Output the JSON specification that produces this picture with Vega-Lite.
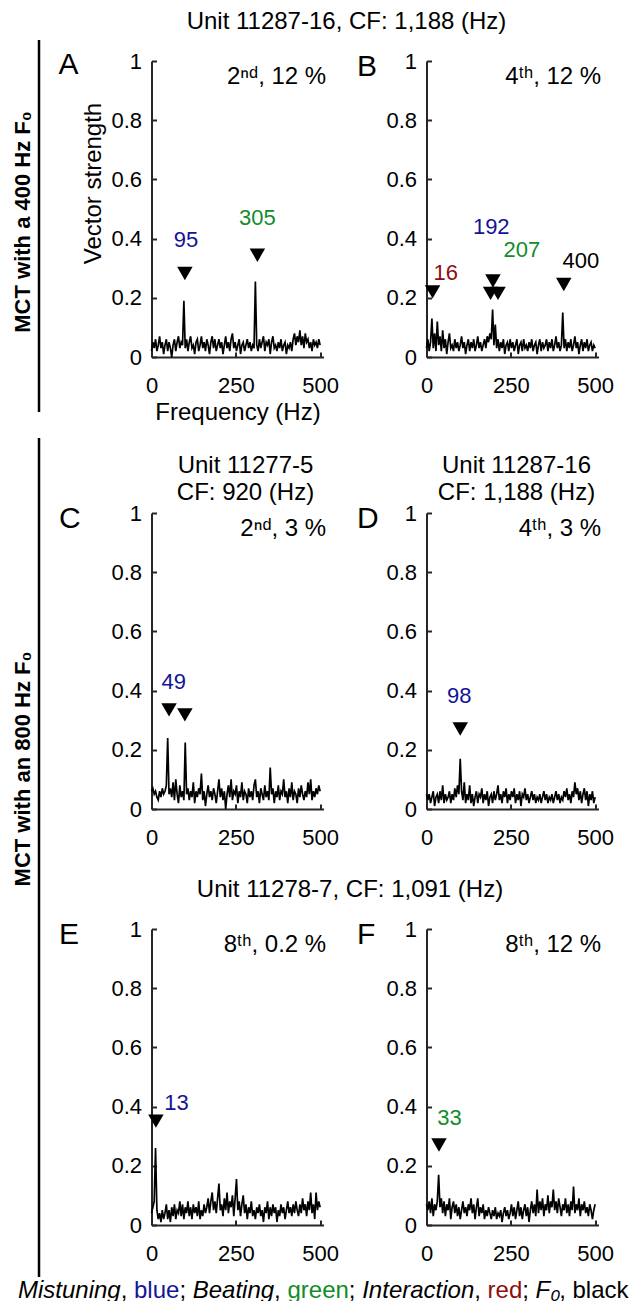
{
"$schema":"https://vega.github.io/schema/vega-lite/v6.json",
"background":"white",
"padding":{"top":10,"left":0,"right":0,"bottom":0},
"config":{"font":"Liberation Sans","view":{"stroke":null},
"axis":{"domainColor":"#262626","domainWidth":2,"tickColor":"#262626","tickWidth":2,"tickSize":-5,"labelFontSize":22,"labelColor":"#000","labelFlush":false,"labelOverlap":false,"grid":false,"titleFontSize":24,"titleFontWeight":"normal","titleColor":"#000"},
"title":{"fontSize":24,"fontWeight":"normal","color":"#000"}},
"datasets":{
"vA":[{"f":0,"v":0.02},{"f":4,"v":0.05},{"f":8,"v":0.03},{"f":12,"v":0.06},{"f":16,"v":0.02},{"f":20,"v":0.04},{"f":24,"v":0.07},{"f":28,"v":0.03},{"f":32,"v":0.05},{"f":36,"v":0.01},{"f":40,"v":0.04},{"f":44,"v":0.06},{"f":48,"v":0.02},{"f":52,"v":0.05},{"f":56,"v":0.03},{"f":60,"v":0.0},{"f":64,"v":0.04},{"f":68,"v":0.06},{"f":72,"v":0.02},{"f":76,"v":0.05},{"f":80,"v":0.07},{"f":84,"v":0.03},{"f":88,"v":0.05},{"f":92,"v":0.04},{"f":96,"v":0.19},{"f":100,"v":0.03},{"f":104,"v":0.06},{"f":108,"v":0.02},{"f":112,"v":0.05},{"f":116,"v":0.07},{"f":120,"v":0.03},{"f":124,"v":0.04},{"f":128,"v":0.01},{"f":132,"v":0.05},{"f":136,"v":0.06},{"f":140,"v":0.02},{"f":144,"v":0.04},{"f":148,"v":0.07},{"f":152,"v":0.03},{"f":156,"v":0.05},{"f":160,"v":0.02},{"f":164,"v":0.06},{"f":168,"v":0.04},{"f":172,"v":0.01},{"f":176,"v":0.05},{"f":180,"v":0.07},{"f":184,"v":0.03},{"f":188,"v":0.06},{"f":192,"v":0.02},{"f":196,"v":0.04},{"f":200,"v":0.06},{"f":204,"v":0.03},{"f":208,"v":0.05},{"f":212,"v":0.01},{"f":216,"v":0.04},{"f":220,"v":0.07},{"f":224,"v":0.03},{"f":228,"v":0.05},{"f":232,"v":0.02},{"f":236,"v":0.06},{"f":240,"v":0.08},{"f":244,"v":0.03},{"f":248,"v":0.05},{"f":252,"v":0.02},{"f":256,"v":0.04},{"f":260,"v":0.06},{"f":264,"v":0.01},{"f":268,"v":0.04},{"f":272,"v":0.05},{"f":276,"v":0.02},{"f":280,"v":0.04},{"f":284,"v":0.06},{"f":288,"v":0.03},{"f":292,"v":0.05},{"f":296,"v":0.02},{"f":300,"v":0.04},{"f":304,"v":0.03},{"f":308,"v":0.255},{"f":312,"v":0.04},{"f":316,"v":0.02},{"f":320,"v":0.06},{"f":324,"v":0.03},{"f":328,"v":0.05},{"f":332,"v":0.07},{"f":336,"v":0.02},{"f":340,"v":0.05},{"f":344,"v":0.04},{"f":348,"v":0.06},{"f":352,"v":0.01},{"f":356,"v":0.05},{"f":360,"v":0.07},{"f":364,"v":0.03},{"f":368,"v":0.04},{"f":372,"v":0.02},{"f":376,"v":0.05},{"f":380,"v":0.03},{"f":384,"v":0.06},{"f":388,"v":0.02},{"f":392,"v":0.04},{"f":396,"v":0.05},{"f":400,"v":0.01},{"f":404,"v":0.04},{"f":408,"v":0.03},{"f":412,"v":0.05},{"f":416,"v":0.02},{"f":420,"v":0.06},{"f":424,"v":0.08},{"f":428,"v":0.04},{"f":432,"v":0.07},{"f":436,"v":0.05},{"f":440,"v":0.09},{"f":444,"v":0.04},{"f":448,"v":0.07},{"f":452,"v":0.03},{"f":456,"v":0.08},{"f":460,"v":0.05},{"f":464,"v":0.06},{"f":468,"v":0.03},{"f":472,"v":0.05},{"f":476,"v":0.02},{"f":480,"v":0.06},{"f":484,"v":0.04},{"f":488,"v":0.05},{"f":492,"v":0.03},{"f":496,"v":0.06},{"f":500,"v":0.04}],
"vB":[{"f":0,"v":0.03},{"f":4,"v":0.06},{"f":8,"v":0.02},{"f":12,"v":0.05},{"f":16,"v":0.13},{"f":20,"v":0.03},{"f":24,"v":0.08},{"f":28,"v":0.02},{"f":32,"v":0.12},{"f":36,"v":0.04},{"f":40,"v":0.07},{"f":44,"v":0.02},{"f":48,"v":0.09},{"f":52,"v":0.03},{"f":56,"v":0.06},{"f":60,"v":0.01},{"f":64,"v":0.05},{"f":68,"v":0.08},{"f":72,"v":0.03},{"f":76,"v":0.04},{"f":80,"v":0.02},{"f":84,"v":0.06},{"f":88,"v":0.03},{"f":92,"v":0.05},{"f":96,"v":0.02},{"f":100,"v":0.04},{"f":104,"v":0.07},{"f":108,"v":0.03},{"f":112,"v":0.05},{"f":116,"v":0.01},{"f":120,"v":0.04},{"f":124,"v":0.06},{"f":128,"v":0.02},{"f":132,"v":0.05},{"f":136,"v":0.03},{"f":140,"v":0.06},{"f":144,"v":0.02},{"f":148,"v":0.04},{"f":152,"v":0.07},{"f":156,"v":0.03},{"f":160,"v":0.05},{"f":164,"v":0.02},{"f":168,"v":0.04},{"f":172,"v":0.06},{"f":176,"v":0.03},{"f":180,"v":0.07},{"f":184,"v":0.05},{"f":188,"v":0.08},{"f":192,"v":0.06},{"f":196,"v":0.16},{"f":200,"v":0.04},{"f":204,"v":0.11},{"f":208,"v":0.03},{"f":212,"v":0.06},{"f":216,"v":0.02},{"f":220,"v":0.05},{"f":224,"v":0.03},{"f":228,"v":0.06},{"f":232,"v":0.01},{"f":236,"v":0.04},{"f":240,"v":0.05},{"f":244,"v":0.02},{"f":248,"v":0.06},{"f":252,"v":0.03},{"f":256,"v":0.05},{"f":260,"v":0.02},{"f":264,"v":0.04},{"f":268,"v":0.06},{"f":272,"v":0.01},{"f":276,"v":0.04},{"f":280,"v":0.05},{"f":284,"v":0.02},{"f":288,"v":0.06},{"f":292,"v":0.03},{"f":296,"v":0.04},{"f":300,"v":0.02},{"f":304,"v":0.05},{"f":308,"v":0.03},{"f":312,"v":0.06},{"f":316,"v":0.02},{"f":320,"v":0.04},{"f":324,"v":0.05},{"f":328,"v":0.01},{"f":332,"v":0.04},{"f":336,"v":0.06},{"f":340,"v":0.02},{"f":344,"v":0.05},{"f":348,"v":0.03},{"f":352,"v":0.04},{"f":356,"v":0.06},{"f":360,"v":0.02},{"f":364,"v":0.05},{"f":368,"v":0.03},{"f":372,"v":0.06},{"f":376,"v":0.02},{"f":380,"v":0.04},{"f":384,"v":0.07},{"f":388,"v":0.03},{"f":392,"v":0.05},{"f":396,"v":0.02},{"f":400,"v":0.04},{"f":404,"v":0.15},{"f":408,"v":0.03},{"f":412,"v":0.06},{"f":416,"v":0.02},{"f":420,"v":0.05},{"f":424,"v":0.03},{"f":428,"v":0.06},{"f":432,"v":0.02},{"f":436,"v":0.04},{"f":440,"v":0.07},{"f":444,"v":0.03},{"f":448,"v":0.05},{"f":452,"v":0.01},{"f":456,"v":0.04},{"f":460,"v":0.06},{"f":464,"v":0.02},{"f":468,"v":0.05},{"f":472,"v":0.03},{"f":476,"v":0.06},{"f":480,"v":0.02},{"f":484,"v":0.04},{"f":488,"v":0.05},{"f":492,"v":0.02},{"f":496,"v":0.04},{"f":500,"v":0.03}],
"vC":[{"f":0,"v":0.06},{"f":4,"v":0.07},{"f":8,"v":0.05},{"f":12,"v":0.06},{"f":16,"v":0.04},{"f":20,"v":0.03},{"f":24,"v":0.06},{"f":28,"v":0.04},{"f":32,"v":0.07},{"f":36,"v":0.05},{"f":40,"v":0.06},{"f":44,"v":0.08},{"f":48,"v":0.24},{"f":52,"v":0.05},{"f":56,"v":0.07},{"f":60,"v":0.04},{"f":64,"v":0.09},{"f":68,"v":0.03},{"f":72,"v":0.1},{"f":76,"v":0.05},{"f":80,"v":0.02},{"f":84,"v":0.08},{"f":88,"v":0.04},{"f":92,"v":0.06},{"f":96,"v":0.03},{"f":100,"v":0.225},{"f":104,"v":0.05},{"f":108,"v":0.07},{"f":112,"v":0.03},{"f":116,"v":0.06},{"f":120,"v":0.04},{"f":124,"v":0.09},{"f":128,"v":0.02},{"f":132,"v":0.06},{"f":136,"v":0.04},{"f":140,"v":0.07},{"f":144,"v":0.05},{"f":148,"v":0.12},{"f":152,"v":0.03},{"f":156,"v":0.06},{"f":160,"v":0.01},{"f":164,"v":0.05},{"f":168,"v":0.08},{"f":172,"v":0.04},{"f":176,"v":0.06},{"f":180,"v":0.03},{"f":184,"v":0.07},{"f":188,"v":0.05},{"f":192,"v":0.02},{"f":196,"v":0.06},{"f":200,"v":0.1},{"f":204,"v":0.04},{"f":208,"v":0.07},{"f":212,"v":0.03},{"f":216,"v":0.06},{"f":220,"v":0.0},{"f":224,"v":0.05},{"f":228,"v":0.08},{"f":232,"v":0.04},{"f":236,"v":0.1},{"f":240,"v":0.03},{"f":244,"v":0.06},{"f":248,"v":0.05},{"f":252,"v":0.08},{"f":256,"v":0.02},{"f":260,"v":0.06},{"f":264,"v":0.04},{"f":268,"v":0.09},{"f":272,"v":0.03},{"f":276,"v":0.06},{"f":280,"v":0.05},{"f":284,"v":0.02},{"f":288,"v":0.07},{"f":292,"v":0.04},{"f":296,"v":0.06},{"f":300,"v":0.03},{"f":304,"v":0.08},{"f":308,"v":0.1},{"f":312,"v":0.04},{"f":316,"v":0.06},{"f":320,"v":0.02},{"f":324,"v":0.07},{"f":328,"v":0.05},{"f":332,"v":0.03},{"f":336,"v":0.08},{"f":340,"v":0.04},{"f":344,"v":0.06},{"f":348,"v":0.03},{"f":352,"v":0.14},{"f":356,"v":0.05},{"f":360,"v":0.07},{"f":364,"v":0.02},{"f":368,"v":0.06},{"f":372,"v":0.04},{"f":376,"v":0.08},{"f":380,"v":0.03},{"f":384,"v":0.06},{"f":388,"v":0.05},{"f":392,"v":0.1},{"f":396,"v":0.04},{"f":400,"v":0.06},{"f":404,"v":0.02},{"f":408,"v":0.07},{"f":412,"v":0.04},{"f":416,"v":0.09},{"f":420,"v":0.03},{"f":424,"v":0.06},{"f":428,"v":0.05},{"f":432,"v":0.02},{"f":436,"v":0.07},{"f":440,"v":0.04},{"f":444,"v":0.08},{"f":448,"v":0.05},{"f":452,"v":0.03},{"f":456,"v":0.06},{"f":460,"v":0.04},{"f":464,"v":0.09},{"f":468,"v":0.05},{"f":472,"v":0.1},{"f":476,"v":0.03},{"f":480,"v":0.06},{"f":484,"v":0.04},{"f":488,"v":0.07},{"f":492,"v":0.05},{"f":496,"v":0.08},{"f":500,"v":0.06}],
"vD":[{"f":0,"v":0.05},{"f":4,"v":0.03},{"f":8,"v":0.05},{"f":12,"v":0.02},{"f":16,"v":0.04},{"f":20,"v":0.06},{"f":24,"v":0.01},{"f":28,"v":0.04},{"f":32,"v":0.05},{"f":36,"v":0.02},{"f":40,"v":0.06},{"f":44,"v":0.03},{"f":48,"v":0.08},{"f":52,"v":0.02},{"f":56,"v":0.05},{"f":60,"v":0.03},{"f":64,"v":0.04},{"f":68,"v":0.06},{"f":72,"v":0.02},{"f":76,"v":0.05},{"f":80,"v":0.03},{"f":84,"v":0.07},{"f":88,"v":0.04},{"f":92,"v":0.08},{"f":96,"v":0.05},{"f":100,"v":0.17},{"f":104,"v":0.06},{"f":108,"v":0.03},{"f":112,"v":0.09},{"f":116,"v":0.02},{"f":120,"v":0.05},{"f":124,"v":0.03},{"f":128,"v":0.08},{"f":132,"v":0.02},{"f":136,"v":0.05},{"f":140,"v":0.01},{"f":144,"v":0.04},{"f":148,"v":0.06},{"f":152,"v":0.02},{"f":156,"v":0.05},{"f":160,"v":0.04},{"f":164,"v":0.07},{"f":168,"v":0.02},{"f":172,"v":0.05},{"f":176,"v":0.03},{"f":180,"v":0.06},{"f":184,"v":0.01},{"f":188,"v":0.04},{"f":192,"v":0.05},{"f":196,"v":0.02},{"f":200,"v":0.06},{"f":204,"v":0.03},{"f":208,"v":0.05},{"f":212,"v":0.08},{"f":216,"v":0.03},{"f":220,"v":0.05},{"f":224,"v":0.02},{"f":228,"v":0.06},{"f":232,"v":0.04},{"f":236,"v":0.07},{"f":240,"v":0.02},{"f":244,"v":0.05},{"f":248,"v":0.03},{"f":252,"v":0.06},{"f":256,"v":0.04},{"f":260,"v":0.07},{"f":264,"v":0.02},{"f":268,"v":0.05},{"f":272,"v":0.03},{"f":276,"v":0.06},{"f":280,"v":0.01},{"f":284,"v":0.05},{"f":288,"v":0.04},{"f":292,"v":0.07},{"f":296,"v":0.03},{"f":300,"v":0.05},{"f":304,"v":0.02},{"f":308,"v":0.04},{"f":312,"v":0.06},{"f":316,"v":0.03},{"f":320,"v":0.05},{"f":324,"v":0.02},{"f":328,"v":0.04},{"f":332,"v":0.03},{"f":336,"v":0.05},{"f":340,"v":0.02},{"f":344,"v":0.04},{"f":348,"v":0.06},{"f":352,"v":0.03},{"f":356,"v":0.05},{"f":360,"v":0.02},{"f":364,"v":0.04},{"f":368,"v":0.03},{"f":372,"v":0.05},{"f":376,"v":0.02},{"f":380,"v":0.04},{"f":384,"v":0.06},{"f":388,"v":0.03},{"f":392,"v":0.05},{"f":396,"v":0.02},{"f":400,"v":0.04},{"f":404,"v":0.03},{"f":408,"v":0.06},{"f":412,"v":0.04},{"f":416,"v":0.07},{"f":420,"v":0.03},{"f":424,"v":0.05},{"f":428,"v":0.02},{"f":432,"v":0.06},{"f":436,"v":0.04},{"f":440,"v":0.09},{"f":444,"v":0.05},{"f":448,"v":0.07},{"f":452,"v":0.03},{"f":456,"v":0.06},{"f":460,"v":0.02},{"f":464,"v":0.05},{"f":468,"v":0.07},{"f":472,"v":0.03},{"f":476,"v":0.06},{"f":480,"v":0.01},{"f":484,"v":0.05},{"f":488,"v":0.03},{"f":492,"v":0.06},{"f":496,"v":0.02},{"f":500,"v":0.04}],
"vE":[{"f":0,"v":0.04},{"f":4,"v":0.06},{"f":8,"v":0.08},{"f":12,"v":0.26},{"f":16,"v":0.05},{"f":20,"v":0.02},{"f":24,"v":0.04},{"f":28,"v":0.01},{"f":32,"v":0.05},{"f":36,"v":0.02},{"f":40,"v":0.04},{"f":44,"v":0.07},{"f":48,"v":0.02},{"f":52,"v":0.05},{"f":56,"v":0.01},{"f":60,"v":0.06},{"f":64,"v":0.03},{"f":68,"v":0.07},{"f":72,"v":0.02},{"f":76,"v":0.05},{"f":80,"v":0.04},{"f":84,"v":0.08},{"f":88,"v":0.03},{"f":92,"v":0.07},{"f":96,"v":0.02},{"f":100,"v":0.06},{"f":104,"v":0.04},{"f":108,"v":0.08},{"f":112,"v":0.03},{"f":116,"v":0.06},{"f":120,"v":0.02},{"f":124,"v":0.07},{"f":128,"v":0.04},{"f":132,"v":0.06},{"f":136,"v":0.03},{"f":140,"v":0.08},{"f":144,"v":0.02},{"f":148,"v":0.05},{"f":152,"v":0.03},{"f":156,"v":0.07},{"f":160,"v":0.04},{"f":164,"v":0.06},{"f":168,"v":0.09},{"f":172,"v":0.04},{"f":176,"v":0.08},{"f":180,"v":0.11},{"f":184,"v":0.05},{"f":188,"v":0.08},{"f":192,"v":0.04},{"f":196,"v":0.09},{"f":200,"v":0.14},{"f":204,"v":0.05},{"f":208,"v":0.07},{"f":212,"v":0.03},{"f":216,"v":0.09},{"f":220,"v":0.05},{"f":224,"v":0.11},{"f":228,"v":0.04},{"f":232,"v":0.08},{"f":236,"v":0.06},{"f":240,"v":0.1},{"f":244,"v":0.03},{"f":248,"v":0.09},{"f":252,"v":0.155},{"f":256,"v":0.05},{"f":260,"v":0.08},{"f":264,"v":0.03},{"f":268,"v":0.07},{"f":272,"v":0.1},{"f":276,"v":0.04},{"f":280,"v":0.07},{"f":284,"v":0.02},{"f":288,"v":0.06},{"f":292,"v":0.04},{"f":296,"v":0.08},{"f":300,"v":0.03},{"f":304,"v":0.05},{"f":308,"v":0.02},{"f":312,"v":0.06},{"f":316,"v":0.04},{"f":320,"v":0.07},{"f":324,"v":0.03},{"f":328,"v":0.05},{"f":332,"v":0.01},{"f":336,"v":0.06},{"f":340,"v":0.04},{"f":344,"v":0.08},{"f":348,"v":0.02},{"f":352,"v":0.06},{"f":356,"v":0.03},{"f":360,"v":0.07},{"f":364,"v":0.04},{"f":368,"v":0.06},{"f":372,"v":0.01},{"f":376,"v":0.05},{"f":380,"v":0.03},{"f":384,"v":0.07},{"f":388,"v":0.04},{"f":392,"v":0.06},{"f":396,"v":0.02},{"f":400,"v":0.05},{"f":404,"v":0.08},{"f":408,"v":0.04},{"f":412,"v":0.06},{"f":416,"v":0.03},{"f":420,"v":0.07},{"f":424,"v":0.04},{"f":428,"v":0.08},{"f":432,"v":0.05},{"f":436,"v":0.03},{"f":440,"v":0.07},{"f":444,"v":0.04},{"f":448,"v":0.09},{"f":452,"v":0.05},{"f":456,"v":0.07},{"f":460,"v":0.03},{"f":464,"v":0.08},{"f":468,"v":0.05},{"f":472,"v":0.11},{"f":476,"v":0.04},{"f":480,"v":0.07},{"f":484,"v":0.02},{"f":488,"v":0.11},{"f":492,"v":0.05},{"f":496,"v":0.08},{"f":500,"v":0.06}],
"vF":[{"f":0,"v":0.07},{"f":4,"v":0.05},{"f":8,"v":0.08},{"f":12,"v":0.04},{"f":16,"v":0.09},{"f":20,"v":0.03},{"f":24,"v":0.07},{"f":28,"v":0.05},{"f":32,"v":0.08},{"f":36,"v":0.17},{"f":40,"v":0.06},{"f":44,"v":0.09},{"f":48,"v":0.04},{"f":52,"v":0.08},{"f":56,"v":0.03},{"f":60,"v":0.07},{"f":64,"v":0.05},{"f":68,"v":0.09},{"f":72,"v":0.02},{"f":76,"v":0.06},{"f":80,"v":0.08},{"f":84,"v":0.04},{"f":88,"v":0.07},{"f":92,"v":0.03},{"f":96,"v":0.06},{"f":100,"v":0.02},{"f":104,"v":0.05},{"f":108,"v":0.08},{"f":112,"v":0.04},{"f":116,"v":0.06},{"f":120,"v":0.03},{"f":124,"v":0.07},{"f":128,"v":0.05},{"f":132,"v":0.09},{"f":136,"v":0.04},{"f":140,"v":0.07},{"f":144,"v":0.02},{"f":148,"v":0.06},{"f":152,"v":0.09},{"f":156,"v":0.03},{"f":160,"v":0.06},{"f":164,"v":0.04},{"f":168,"v":0.07},{"f":172,"v":0.02},{"f":176,"v":0.05},{"f":180,"v":0.03},{"f":184,"v":0.06},{"f":188,"v":0.04},{"f":192,"v":0.02},{"f":196,"v":0.05},{"f":200,"v":0.03},{"f":204,"v":0.06},{"f":208,"v":0.02},{"f":212,"v":0.04},{"f":216,"v":0.03},{"f":220,"v":0.05},{"f":224,"v":0.01},{"f":228,"v":0.04},{"f":232,"v":0.06},{"f":236,"v":0.03},{"f":240,"v":0.05},{"f":244,"v":0.02},{"f":248,"v":0.04},{"f":252,"v":0.07},{"f":256,"v":0.03},{"f":260,"v":0.06},{"f":264,"v":0.02},{"f":268,"v":0.05},{"f":272,"v":0.08},{"f":276,"v":0.03},{"f":280,"v":0.06},{"f":284,"v":0.02},{"f":288,"v":0.05},{"f":292,"v":0.07},{"f":296,"v":0.03},{"f":300,"v":0.06},{"f":304,"v":0.01},{"f":308,"v":0.05},{"f":312,"v":0.08},{"f":316,"v":0.04},{"f":320,"v":0.07},{"f":324,"v":0.03},{"f":328,"v":0.12},{"f":332,"v":0.04},{"f":336,"v":0.08},{"f":340,"v":0.05},{"f":344,"v":0.09},{"f":348,"v":0.03},{"f":352,"v":0.07},{"f":356,"v":0.05},{"f":360,"v":0.1},{"f":364,"v":0.04},{"f":368,"v":0.08},{"f":372,"v":0.06},{"f":376,"v":0.12},{"f":380,"v":0.05},{"f":384,"v":0.08},{"f":388,"v":0.04},{"f":392,"v":0.09},{"f":396,"v":0.06},{"f":400,"v":0.03},{"f":404,"v":0.07},{"f":408,"v":0.05},{"f":412,"v":0.09},{"f":416,"v":0.04},{"f":420,"v":0.07},{"f":424,"v":0.03},{"f":428,"v":0.08},{"f":432,"v":0.05},{"f":436,"v":0.13},{"f":440,"v":0.04},{"f":444,"v":0.07},{"f":448,"v":0.05},{"f":452,"v":0.09},{"f":456,"v":0.03},{"f":460,"v":0.07},{"f":464,"v":0.05},{"f":468,"v":0.08},{"f":472,"v":0.04},{"f":476,"v":0.06},{"f":480,"v":0.03},{"f":484,"v":0.07},{"f":488,"v":0.05},{"f":492,"v":0.02},{"f":496,"v":0.05},{"f":500,"v":0.07}],
"tri":[{"p":"A","f":99,"v":0.282},{"p":"A","f":314,"v":0.344},{"p":"B","f":18,"v":0.22},{"p":"B","f":197,"v":0.257},{"p":"B","f":190,"v":0.215},{"p":"B","f":212,"v":0.215},{"p":"B","f":407,"v":0.245},{"p":"C","f":52,"v":0.335},{"p":"C","f":99,"v":0.318},{"p":"D","f":100,"v":0.27},{"p":"E","f":13,"v":0.351},{"p":"F","f":37,"v":0.27}],
"lab":[{"p":"A","f":102,"v":0.394,"t":"95","k":"mis"},{"p":"A","f":314,"v":0.468,"t":"305","k":"beat"},{"p":"B","f":57,"v":0.285,"t":"16","k":"int"},{"p":"B","f":192,"v":0.44,"t":"192","k":"mis"},{"p":"B","f":283,"v":0.36,"t":"207","k":"beat"},{"p":"B","f":458,"v":0.325,"t":"400","k":"f0"},{"p":"C","f":66,"v":0.43,"t":"49","k":"mis"},{"p":"D","f":97,"v":0.383,"t":"98","k":"mis"},{"p":"E","f":74,"v":0.413,"t":"13","k":"mis"},{"p":"F","f":68,"v":0.363,"t":"33","k":"beat"}],
"note":[{"p":"A","t":"2ⁿᵈ, 12 %"},{"p":"B","t":"4ᵗʰ, 12 %"},{"p":"C","t":"2ⁿᵈ, 3 %"},{"p":"D","t":"4ᵗʰ, 3 %"},{"p":"E","t":"8ᵗʰ, 0.2 %"},{"p":"F","t":"8ᵗʰ, 12 %"}],
"foot":[{"t":"Mistuning","x":18,"k":"term"},{"t":",","x":120.7,"k":"f0"},{"t":"blue","x":134,"k":"mis"},{"t":";","x":179.4,"k":"f0"},{"t":"Beating","x":192.7,"k":"term"},{"t":",","x":274.1,"k":"f0"},{"t":"green","x":287.5,"k":"beat"},{"t":";","x":348.8,"k":"f0"},{"t":"Interaction","x":362.2,"k":"term"},{"t":",","x":474.2,"k":"f0"},{"t":"red","x":487.6,"k":"int"},{"t":";","x":522.3,"k":"f0"},{"t":"F₀","x":535.6,"k":"term"},{"t":",","x":559.2,"k":"f0"},{"t":"black","x":572.5,"k":"f0"}]
},
"spacing":0,
"vconcat":[
{"spacing":17.5,"hconcat":[
 {"spacing":22,"vconcat":[
  {"width":40,"height":296,"data":{"values":[{}]},"layer":[
   {"mark":{"type":"rule","color":"#000","strokeWidth":2.5},"encoding":{"x":{"datum":0.975,"type":"quantitative","scale":{"domain":[0,1]},"axis":null},"y":{"datum":1.0709,"type":"quantitative","scale":{"domain":[0,1]},"axis":null},"y2":{"datum":-0.1858}}},
   {"mark":{"type":"text","angle":270,"fontWeight":"bold","fontSize":22,"align":"center","baseline":"middle","color":"#000"},"encoding":{"x":{"datum":0.5625,"type":"quantitative","axis":null},"y":{"datum":0.456,"type":"quantitative","axis":null},"text":{"value":"MCT with a 400 Hz F₀"}}}
  ]},
  {"width":40,"height":839,"data":{"values":[{}]},"layer":[
   {"mark":{"type":"rule","color":"#000","strokeWidth":2.5},"encoding":{"x":{"datum":0.975,"type":"quantitative","scale":{"domain":[0,1]},"axis":null},"y":{"datum":1,"type":"quantitative","scale":{"domain":[0,1]},"axis":null},"y2":{"datum":0}}},
   {"mark":{"type":"text","angle":270,"fontWeight":"bold","fontSize":22,"align":"center","baseline":"middle","color":"#000"},"encoding":{"x":{"datum":0.5625,"type":"quantitative","axis":null},"y":{"datum":0.6055,"type":"quantitative","axis":null},"text":{"value":"MCT with an 800 Hz F₀"}}}
  ]}
 ]},
 {"spacing":30,"vconcat":[
  {"spacing":18,"title":{"text":"Unit 11287-16, CF: 1,188 (Hz)","anchor":"middle","dx":10.5,"offset":16,"fontSize":24},"hconcat":[
   {"width":172,"height":296,"title":{"text":"A","anchor":"start","frame":"group","dx":-93,"offset":-30,"fontSize":30},"layer":[
    {"data":{"name":"vA"},"mark":{"type":"line","color":"#000","strokeWidth":1.7},"encoding":{"x":{"field":"f","type":"quantitative","scale":{"domain":[0,510],"nice":false},"axis":{"values":[0,250,500],"format":"d","title":"Frequency (Hz)","labelPadding":23,"titlePadding":4}},"y":{"field":"v","type":"quantitative","scale":{"domain":[0,1],"nice":false},"axis":{"values":[0,0.2,0.4,0.6,0.8,1],"format":"~g","title":"Vector strength","labelPadding":15,"titlePadding":5,"titleY":122}}}},
    {"data":{"name":"tri"},"transform":[{"filter":"datum.p==='A'"}],"mark":{"type":"point","shape":"triangle-down","filled":true,"color":"#000","opacity":1,"size":240},"encoding":{"x":{"field":"f","type":"quantitative"},"y":{"field":"v","type":"quantitative"}}},
    {"data":{"name":"lab"},"transform":[{"filter":"datum.p==='A'"}],"mark":{"type":"text","fontSize":22},"encoding":{"x":{"field":"f","type":"quantitative"},"y":{"field":"v","type":"quantitative"},"text":{"field":"t"},"color":{"field":"k","type":"nominal","scale":{"domain":["mis","beat","int","f0"],"range":["#141496","#128C2A","#8C0F0F","#000000"]},"legend":null}}},
    {"data":{"name":"note"},"transform":[{"filter":"datum.p==='A'"}],"mark":{"type":"text","align":"right","fontSize":24,"color":"#000"},"encoding":{"x":{"datum":518,"type":"quantitative"},"y":{"datum":0.945,"type":"quantitative"},"text":{"field":"t"}}}
   ]},
   {"width":172,"height":296,"layer":[
    {"data":{"name":"vB"},"mark":{"type":"line","color":"#000","strokeWidth":1.7},"encoding":{"x":{"field":"f","type":"quantitative","scale":{"domain":[0,510],"nice":false},"axis":{"values":[0,250,500],"format":"d","title":null,"labelPadding":23}},"y":{"field":"v","type":"quantitative","scale":{"domain":[0,1],"nice":false},"axis":{"values":[0,0.2,0.4,0.6,0.8,1],"format":"~g","title":"B","titleAngle":0,"titleX":-70,"titleY":-10,"titleAlign":"left","titleBaseline":"top","titleFontSize":30,"labelPadding":15}}}},
    {"data":{"name":"tri"},"transform":[{"filter":"datum.p==='B'"}],"mark":{"type":"point","shape":"triangle-down","filled":true,"color":"#000","opacity":1,"size":240},"encoding":{"x":{"field":"f","type":"quantitative"},"y":{"field":"v","type":"quantitative"}}},
    {"data":{"name":"lab"},"transform":[{"filter":"datum.p==='B'"}],"mark":{"type":"text","fontSize":22},"encoding":{"x":{"field":"f","type":"quantitative"},"y":{"field":"v","type":"quantitative"},"text":{"field":"t"},"color":{"field":"k","type":"nominal","scale":{"domain":["mis","beat","int","f0"],"range":["#141496","#128C2A","#8C0F0F","#000000"]},"legend":null}}},
    {"data":{"name":"note"},"transform":[{"filter":"datum.p==='B'"}],"mark":{"type":"text","align":"right","fontSize":24,"color":"#000"},"encoding":{"x":{"datum":518,"type":"quantitative"},"y":{"datum":0.945,"type":"quantitative"},"text":{"field":"t"}}}
   ]}
  ]},
  {"spacing":18,"hconcat":[
   {"width":172,"height":296,"title":{"text":["Unit 11277-5","CF: 920 (Hz)"],"anchor":"middle","frame":"group","dx":8,"offset":-3,"lineHeight":27,"fontSize":24},"layer":[
    {"data":{"name":"vC"},"mark":{"type":"line","color":"#000","strokeWidth":1.7},"encoding":{"x":{"field":"f","type":"quantitative","scale":{"domain":[0,510],"nice":false},"axis":{"values":[0,250,500],"format":"d","title":null,"labelPadding":23}},"y":{"field":"v","type":"quantitative","scale":{"domain":[0,1],"nice":false},"axis":{"values":[0,0.2,0.4,0.6,0.8,1],"format":"~g","title":"C","titleAngle":0,"titleX":-93,"titleY":-10,"titleAlign":"left","titleBaseline":"top","titleFontSize":30,"labelPadding":15}}}},
    {"data":{"name":"tri"},"transform":[{"filter":"datum.p==='C'"}],"mark":{"type":"point","shape":"triangle-down","filled":true,"color":"#000","opacity":1,"size":240},"encoding":{"x":{"field":"f","type":"quantitative"},"y":{"field":"v","type":"quantitative"}}},
    {"data":{"name":"lab"},"transform":[{"filter":"datum.p==='C'"}],"mark":{"type":"text","fontSize":22},"encoding":{"x":{"field":"f","type":"quantitative"},"y":{"field":"v","type":"quantitative"},"text":{"field":"t"},"color":{"field":"k","type":"nominal","scale":{"domain":["mis","beat","int","f0"],"range":["#141496","#128C2A","#8C0F0F","#000000"]},"legend":null}}},
    {"data":{"name":"note"},"transform":[{"filter":"datum.p==='C'"}],"mark":{"type":"text","align":"right","fontSize":24,"color":"#000"},"encoding":{"x":{"datum":518,"type":"quantitative"},"y":{"datum":0.945,"type":"quantitative"},"text":{"field":"t"}}}
   ]},
   {"width":172,"height":296,"title":{"text":["Unit 11287-16","CF: 1,188 (Hz)"],"anchor":"middle","frame":"group","dx":4,"offset":-3,"lineHeight":27,"fontSize":24},"layer":[
    {"data":{"name":"vD"},"mark":{"type":"line","color":"#000","strokeWidth":1.7},"encoding":{"x":{"field":"f","type":"quantitative","scale":{"domain":[0,510],"nice":false},"axis":{"values":[0,250,500],"format":"d","title":null,"labelPadding":23}},"y":{"field":"v","type":"quantitative","scale":{"domain":[0,1],"nice":false},"axis":{"values":[0,0.2,0.4,0.6,0.8,1],"format":"~g","title":"D","titleAngle":0,"titleX":-70,"titleY":-10,"titleAlign":"left","titleBaseline":"top","titleFontSize":30,"labelPadding":15}}}},
    {"data":{"name":"tri"},"transform":[{"filter":"datum.p==='D'"}],"mark":{"type":"point","shape":"triangle-down","filled":true,"color":"#000","opacity":1,"size":240},"encoding":{"x":{"field":"f","type":"quantitative"},"y":{"field":"v","type":"quantitative"}}},
    {"data":{"name":"lab"},"transform":[{"filter":"datum.p==='D'"}],"mark":{"type":"text","fontSize":22},"encoding":{"x":{"field":"f","type":"quantitative"},"y":{"field":"v","type":"quantitative"},"text":{"field":"t"},"color":{"field":"k","type":"nominal","scale":{"domain":["mis","beat","int","f0"],"range":["#141496","#128C2A","#8C0F0F","#000000"]},"legend":null}}},
    {"data":{"name":"note"},"transform":[{"filter":"datum.p==='D'"}],"mark":{"type":"text","align":"right","fontSize":24,"color":"#000"},"encoding":{"x":{"datum":518,"type":"quantitative"},"y":{"datum":0.945,"type":"quantitative"},"text":{"field":"t"}}}
   ]}
  ]},
  {"spacing":18,"title":{"text":"Unit 11278-7, CF: 1,091 (Hz)","anchor":"middle","dx":14,"offset":16,"fontSize":24},"hconcat":[
   {"width":172,"height":296,"layer":[
    {"data":{"name":"vE"},"mark":{"type":"line","color":"#000","strokeWidth":1.7},"encoding":{"x":{"field":"f","type":"quantitative","scale":{"domain":[0,510],"nice":false},"axis":{"values":[0,250,500],"format":"d","title":null,"labelPadding":23}},"y":{"field":"v","type":"quantitative","scale":{"domain":[0,1],"nice":false},"axis":{"values":[0,0.2,0.4,0.6,0.8,1],"format":"~g","title":"E","titleAngle":0,"titleX":-93,"titleY":-10,"titleAlign":"left","titleBaseline":"top","titleFontSize":30,"labelPadding":15}}}},
    {"data":{"name":"tri"},"transform":[{"filter":"datum.p==='E'"}],"mark":{"type":"point","shape":"triangle-down","filled":true,"color":"#000","opacity":1,"size":240},"encoding":{"x":{"field":"f","type":"quantitative"},"y":{"field":"v","type":"quantitative"}}},
    {"data":{"name":"lab"},"transform":[{"filter":"datum.p==='E'"}],"mark":{"type":"text","fontSize":22},"encoding":{"x":{"field":"f","type":"quantitative"},"y":{"field":"v","type":"quantitative"},"text":{"field":"t"},"color":{"field":"k","type":"nominal","scale":{"domain":["mis","beat","int","f0"],"range":["#141496","#128C2A","#8C0F0F","#000000"]},"legend":null}}},
    {"data":{"name":"note"},"transform":[{"filter":"datum.p==='E'"}],"mark":{"type":"text","align":"right","fontSize":24,"color":"#000"},"encoding":{"x":{"datum":518,"type":"quantitative"},"y":{"datum":0.945,"type":"quantitative"},"text":{"field":"t"}}}
   ]},
   {"width":172,"height":296,"layer":[
    {"data":{"name":"vF"},"mark":{"type":"line","color":"#000","strokeWidth":1.7},"encoding":{"x":{"field":"f","type":"quantitative","scale":{"domain":[0,510],"nice":false},"axis":{"values":[0,250,500],"format":"d","title":null,"labelPadding":23}},"y":{"field":"v","type":"quantitative","scale":{"domain":[0,1],"nice":false},"axis":{"values":[0,0.2,0.4,0.6,0.8,1],"format":"~g","title":"F","titleAngle":0,"titleX":-70,"titleY":-10,"titleAlign":"left","titleBaseline":"top","titleFontSize":30,"labelPadding":15}}}},
    {"data":{"name":"tri"},"transform":[{"filter":"datum.p==='F'"}],"mark":{"type":"point","shape":"triangle-down","filled":true,"color":"#000","opacity":1,"size":240},"encoding":{"x":{"field":"f","type":"quantitative"},"y":{"field":"v","type":"quantitative"}}},
    {"data":{"name":"lab"},"transform":[{"filter":"datum.p==='F'"}],"mark":{"type":"text","fontSize":22},"encoding":{"x":{"field":"f","type":"quantitative"},"y":{"field":"v","type":"quantitative"},"text":{"field":"t"},"color":{"field":"k","type":"nominal","scale":{"domain":["mis","beat","int","f0"],"range":["#141496","#128C2A","#8C0F0F","#000000"]},"legend":null}}},
    {"data":{"name":"note"},"transform":[{"filter":"datum.p==='F'"}],"mark":{"type":"text","align":"right","fontSize":24,"color":"#000"},"encoding":{"x":{"datum":518,"type":"quantitative"},"y":{"datum":0.945,"type":"quantitative"},"text":{"field":"t"}}}
   ]}
  ]}
 ]}
]},
{"width":634,"height":24,"data":{"name":"foot"},"layer":[
 {"transform":[{"filter":"datum.k==='term'"}],"mark":{"type":"text","align":"left","baseline":"middle","fontSize":24,"fontStyle":"italic","color":"#000"},"encoding":{"x":{"field":"x","type":"quantitative","scale":{"domain":[0,634],"nice":false,"zero":false},"axis":null},"text":{"field":"t"}}},
 {"transform":[{"filter":"datum.k!=='term'"}],"mark":{"type":"text","align":"left","baseline":"middle","fontSize":24},"encoding":{"x":{"field":"x","type":"quantitative","axis":null},"text":{"field":"t"},"color":{"field":"k","type":"nominal","scale":{"domain":["mis","beat","int","f0"],"range":["#141496","#128C2A","#8C0F0F","#000000"]},"legend":null}}}
]}
]
}
